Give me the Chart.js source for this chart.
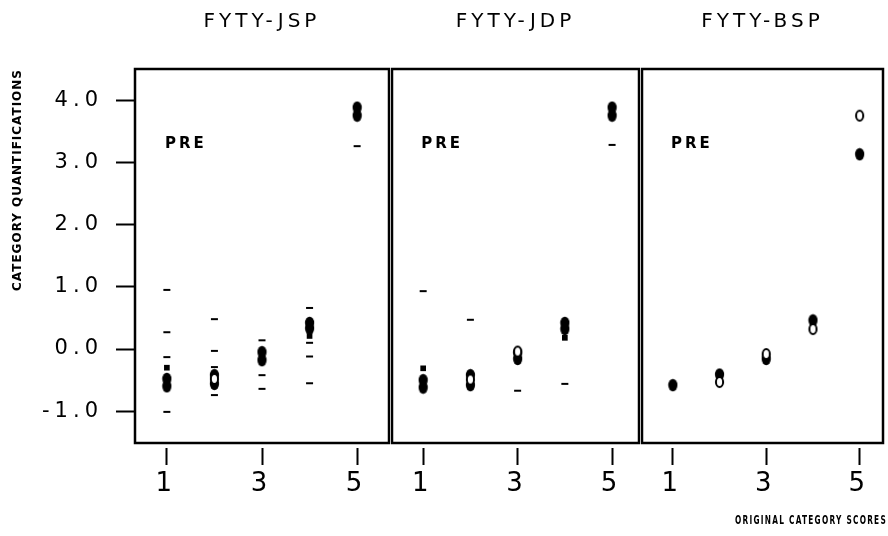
<!DOCTYPE html>
<html><head><meta charset="utf-8">
<script src="https://cdn.jsdelivr.net/npm/chart.js@4"></script>
<style>
html,body{margin:0;padding:0;background:#fff;}
#wrap{position:relative;width:888px;height:536px;overflow:hidden;background:#fff;}
canvas{position:absolute;top:0;}
</style></head><body>
<div id="wrap">
<canvas id="c1" width="390" height="536" style="left:0px"></canvas>
<canvas id="c2" width="250" height="536" style="left:390px"></canvas>
<canvas id="c3" width="248" height="536" style="left:640px"></canvas>
</div>
<script>
// ---- data ----
const panelTitles = ['FYTY-JSP', 'FYTY-JDP', 'FYTY-BSP'];
const xTicks = [1, 3, 5];
const yTicks = [-1, 0, 1, 2, 3, 4];
const noteText = 'PRE';
const notePos = [0.96, 3.3];
const yAxisTitle = 'CATEGORY QUANTIFICATIONS';
const xAxisTitle = 'ORIGINAL CATEGORY SCORES';

// FYTY-JSP
const jspFilledX = [1, 1, 2, 2, 3, 3, 4, 4, 5, 5];
const jspFilledY = [-0.48, -0.60, -0.42, -0.56, -0.05, -0.18, 0.42, 0.33, 3.88, 3.75];
const jspBlockX = [1, 4];
const jspBlockY = [-0.30, 0.21];
const jspDashX = [1, 1, 1, 1, 2, 2, 2, 2, 3, 3, 3, 4, 4, 4, 4, 5];
const jspDashY = [0.95, 0.27, -0.13, -1.01, 0.48, -0.03, -0.29, -0.74, 0.14, -0.42, -0.64, 0.66, 0.10, -0.12, -0.55, 3.26];
const jspOpenX = [2];
const jspOpenY = [-0.48];

// FYTY-JDP
const jdpFilledX = [1, 1, 2, 2, 3, 3, 4, 4, 5, 5];
const jdpFilledY = [-0.50, -0.62, -0.42, -0.58, -0.06, -0.16, 0.42, 0.32, 3.88, 3.75];
const jdpBlockX = [1, 4];
const jdpBlockY = [-0.31, 0.18];
const jdpDashX = [1, 2, 3, 4, 5];
const jdpDashY = [0.93, 0.47, -0.67, -0.56, 3.28];
const jdpOpenX = [2, 3];
const jdpOpenY = [-0.49, -0.04];

// FYTY-BSP
const bspFilledX = [1, 2, 3, 4, 5];
const bspFilledY = [-0.58, -0.41, -0.16, 0.46, 3.13];
const bspBlockX = [];
const bspBlockY = [];
const bspDashX = [];
const bspDashY = [];
const bspOpenX = [2, 3, 4, 5];
const bspOpenY = [-0.53, -0.08, 0.32, 3.75];

// ---- helpers ----
const pair = (xs, ys) => xs.map((x, i) => ({x: x, y: ys[i]}));

function spacingFor(fontStr) {
  const m = /(\d+(?:\.\d+)?)px/.exec(fontStr);
  const s = m ? parseFloat(m[1]) : 12;
  if (fontStr.indexOf('Condensed') >= 0) return 2;
  return s >= 15 ? Math.round(s * 0.22) : 1;
}

function patchCtx(canvas) {
  const ctx = canvas.getContext('2d');
  const desc = Object.getOwnPropertyDescriptor(CanvasRenderingContext2D.prototype, 'font');
  Object.defineProperty(ctx, 'font', {
    configurable: true,
    get() { return desc.get.call(this); },
    set(v) {
      desc.set.call(this, v);
      if ('letterSpacing' in this) this.letterSpacing = spacingFor(v) + 'px';
    }
  });
  return ctx;
}

function ellipseImg(filled) {
  const c = document.createElement('canvas');
  c.width = 11; c.height = 14;
  const g = c.getContext('2d');
  g.beginPath();
  if (filled) {
    g.ellipse(5.5, 7, 4.6, 6.2, 0, 0, Math.PI * 2);
    g.fillStyle = '#000'; g.fill();
  } else {
    g.ellipse(5.5, 7, 3.6, 5.0, 0, 0, Math.PI * 2);
    g.fillStyle = '#fff'; g.fill();
    g.lineWidth = 2; g.strokeStyle = '#000'; g.stroke();
  }
  return c;
}
const filledMark = ellipseImg(true);
const openMark = ellipseImg(false);

const framePlugin = {
  id: 'frame',
  afterDatasetsDraw(chart) {
    const {ctx, chartArea: a} = chart;
    ctx.save();
    ctx.strokeStyle = '#000';
    ctx.lineWidth = 2.5;
    ctx.strokeRect(a.left, a.top, a.right - a.left, a.bottom - a.top);
    ctx.restore();
  }
};
const notePlugin = {
  id: 'note',
  afterDatasetsDraw(chart) {
    const ctx = chart.ctx;
    const x = chart.scales.x.getPixelForValue(notePos[0]);
    const y = chart.scales.y.getPixelForValue(notePos[1]);
    ctx.save();
    ctx.font = '600 15px "DejaVu Sans"';
    ctx.fillStyle = '#000';
    ctx.textAlign = 'left';
    ctx.textBaseline = 'middle';
    ctx.fillText(noteText, x, y);
    ctx.restore();
  }
};
// condensed x-axis caption under the last panel
const xCaptionPlugin = {
  id: 'xCaption',
  afterDraw(chart, args, o) {
    if (!o.show) return;
    const ctx = chart.ctx;
    const xs = chart.scales.x;
    ctx.save();
    ctx.font = 'bold 13px "DejaVu Sans Condensed"';
    ctx.fillStyle = '#000';
    ctx.textAlign = 'right';
    ctx.textBaseline = 'middle';
    ctx.fillText(xAxisTitle, xs.right + 4, xs.bottom - 15, 152);
    ctx.restore();
  }
};

function makePanel(id, title, d, opt) {
  const canvas = document.getElementById(id);
  patchCtx(canvas);
  const datasets = [
    {data: pair(d.openX, d.openY), pointStyle: openMark, pointRadius: 6},
    {data: pair(d.dashX, d.dashY), pointStyle: 'line', pointRadius: 3.5, borderWidth: 2, borderColor: '#000'},
    {data: pair(d.blockX, d.blockY), pointStyle: 'rect', pointRadius: 4, backgroundColor: '#000', borderColor: '#000', borderWidth: 0},
    {data: pair(d.filledX, d.filledY), pointStyle: filledMark, pointRadius: 6}
  ];
  return new Chart(canvas, {
    type: 'scatter',
    data: {datasets: datasets},
    plugins: [framePlugin, notePlugin, xCaptionPlugin],
    options: {
      responsive: false,
      animation: false,
      devicePixelRatio: 1,
      layout: {padding: opt.padding, autoPadding: false},
      plugins: {
        legend: {display: false},
        tooltip: {enabled: false},
        xCaption: {show: opt.xTitle},
        title: {
          display: true, text: title, fullSize: false, color: '#000',
          font: {family: 'DejaVu Sans', size: 20, weight: 'normal'},
          padding: {top: 10, bottom: 35}
        }
      },
      scales: {
        x: {
          type: 'linear', position: 'bottom', min: opt.xMin, max: opt.xMax,
          afterBuildTicks: s => { s.ticks = xTicks.map(v => ({value: v})); },
          afterFit: s => { s.height = 93; s.paddingLeft = 0; s.paddingRight = 0; },
          ticks: {color: '#000', font: {family: 'DejaVu Sans', size: 26}, padding: 4, callback: v => String(v)},
          grid: {drawOnChartArea: false, drawTicks: true, tickLength: 22, tickWidth: 2, tickColor: '#000', tickBorderDash: [0, 5, 17, 100]},
          border: {display: false}
        },
        y: {
          type: 'linear', display: opt.yAxis, min: -1.51, max: 4.5,
          afterBuildTicks: s => { s.ticks = yTicks.map(v => ({value: v})); },
          afterFit: s => { s.width = opt.yAxis ? 135 : 0; s.paddingTop = 0; s.paddingBottom = 0; },
          ticks: {color: '#000', font: {family: 'DejaVu Sans', size: 21}, padding: 13, callback: v => v.toFixed(1)},
          grid: {drawOnChartArea: false, drawTicks: true, tickLength: 19, tickWidth: 2, tickColor: '#000'},
          border: {display: false},
          title: {
            display: true, text: yAxisTitle, align: 'end', color: '#000',
            font: {family: 'DejaVu Sans', size: 12, weight: 'bold'},
            padding: {top: 11, bottom: 0}
          }
        }
      }
    }
  });
}

makePanel('c1', panelTitles[0],
  {filledX: jspFilledX, filledY: jspFilledY, blockX: jspBlockX, blockY: jspBlockY, dashX: jspDashX, dashY: jspDashY, openX: jspOpenX, openY: jspOpenY},
  {padding: {left: 0, right: 1, top: 0, bottom: 0}, xMin: 0.33, xMax: 5.67, yAxis: true, xTitle: false});
makePanel('c2', panelTitles[1],
  {filledX: jdpFilledX, filledY: jdpFilledY, blockX: jdpBlockX, blockY: jdpBlockY, dashX: jdpDashX, dashY: jdpDashY, openX: jdpOpenX, openY: jdpOpenY},
  {padding: {left: 2, right: 1, top: 0, bottom: 0}, xMin: 0.34, xMax: 5.57, yAxis: false, xTitle: false});
makePanel('c3', panelTitles[2],
  {filledX: bspFilledX, filledY: bspFilledY, blockX: bspBlockX, blockY: bspBlockY, dashX: bspDashX, dashY: bspDashY, openX: bspOpenX, openY: bspOpenY},
  {padding: {left: 2, right: 5, top: 0, bottom: 0}, xMin: 0.34, xMax: 5.5, yAxis: false, xTitle: true});
</script>
</body></html>
